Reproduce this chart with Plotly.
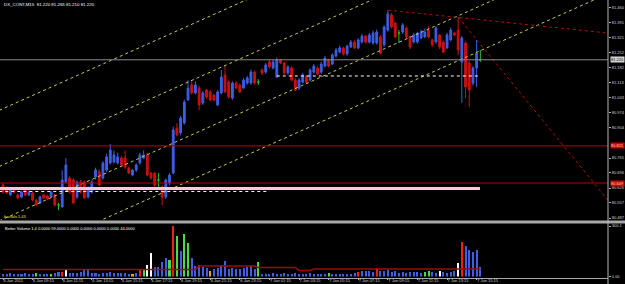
import plotly.graph_objects as go

# ---------------- data ----------------
title_text = "DX_CONT,M15  81.220 81.265 81.210 81.220"
indicator_text = "Better Volume 1.4 0.0000 59.0000 0.0000 0.0000 0.0000 0.0000 44.0000"
fractal_text = "fractals 1.43"

opens = [80.640, 80.626, 80.594, 80.626, 80.594, 80.584, 80.617, 80.594, 80.603, 80.570,
         80.557, 80.594, 80.589, 80.584, 80.594, 80.547, 80.538, 80.654, 80.672, 80.663,
         80.584, 80.654, 80.654, 80.584, 80.607, 80.677, 80.700, 80.672, 80.709, 80.742,
         80.746, 80.742, 80.765, 80.765, 80.719, 80.686, 80.709, 80.742, 80.765, 80.779,
         80.695, 80.695, 80.663, 80.631, 80.584, 80.649, 80.695, 80.904, 80.881, 80.927,
         81.034, 81.103, 81.066, 81.089, 81.020, 81.080, 81.071, 81.057, 81.011, 81.066,
         81.150, 81.117, 81.043, 81.112, 81.103, 81.089, 81.112, 81.112, 81.163, 81.117,
         81.173, 81.163, 81.210, 81.182, 81.140, 81.219, 81.205, 81.159, 81.182, 81.126,
         81.089, 81.117, 81.145, 81.126, 81.163, 81.182, 81.163, 81.191, 81.219, 81.200,
         81.238, 81.256, 81.275, 81.247, 81.279, 81.302, 81.275, 81.302, 81.330, 81.302,
         81.298, 81.298, 81.326, 81.289, 81.358, 81.428, 81.390, 81.344, 81.349, 81.367,
         81.326, 81.302, 81.302, 81.321, 81.326, 81.358, 81.312, 81.302, 81.335, 81.302,
         81.275, 81.312, 81.344, 81.358, 81.210, 81.298, 81.205, 81.112, 81.182, 81.220]
highs = [80.650, 80.635, 80.625, 80.631, 80.600, 80.612, 80.622, 80.615, 80.610, 80.575,
         80.590, 80.598, 80.594, 80.612, 80.600, 80.557, 80.709, 80.765, 80.680, 80.670,
         80.660, 80.663, 80.660, 80.635, 80.665, 80.720, 80.712, 80.750, 80.785, 80.830,
         80.800, 80.790, 80.775, 80.800, 80.725, 80.715, 80.740, 80.790, 80.800, 80.790,
         80.700, 80.700, 80.695, 80.640, 80.670, 80.695, 80.910, 80.927, 80.960, 81.035,
         81.126, 81.126, 81.120, 81.100, 81.075, 81.085, 81.080, 81.062, 81.080, 81.173,
         81.196, 81.125, 81.120, 81.120, 81.110, 81.135, 81.145, 81.175, 81.170, 81.130,
         81.180, 81.205, 81.220, 81.220, 81.230, 81.225, 81.210, 81.195, 81.190, 81.135,
         81.135, 81.160, 81.150, 81.180, 81.200, 81.190, 81.210, 81.238, 81.225, 81.250,
         81.275, 81.285, 81.280, 81.290, 81.312, 81.310, 81.320, 81.340, 81.335, 81.345,
         81.355, 81.360, 81.335, 81.380, 81.450, 81.436, 81.395, 81.358, 81.390, 81.375,
         81.330, 81.345, 81.350, 81.360, 81.365, 81.375, 81.318, 81.375, 81.340, 81.310,
         81.345, 81.370, 81.350, 81.418, 81.330, 81.305, 81.215, 81.190, 81.312, 81.265]
lows = [80.600, 80.598, 80.590, 80.600, 80.575, 80.578, 80.589, 80.589, 80.565, 80.540,
        80.550, 80.575, 80.570, 80.580, 80.540, 80.524, 80.535, 80.650, 80.600, 80.550,
        80.575, 80.600, 80.575, 80.578, 80.600, 80.665, 80.635, 80.665, 80.700, 80.735,
        80.740, 80.735, 80.725, 80.715, 80.690, 80.680, 80.700, 80.735, 80.760, 80.680,
        80.665, 80.630, 80.631, 80.547, 80.575, 80.640, 80.690, 80.865, 80.870, 80.920,
        81.030, 81.060, 81.060, 80.987, 81.011, 81.040, 81.030, 81.028, 81.005, 81.060,
        81.065, 81.040, 81.035, 81.085, 81.065, 81.085, 81.105, 81.105, 81.105, 81.103,
        81.150, 81.155, 81.180, 81.175, 81.135, 81.200, 81.150, 81.150, 81.120, 81.075,
        81.080, 81.110, 81.110, 81.120, 81.155, 81.150, 81.155, 81.185, 81.185, 81.195,
        81.230, 81.250, 81.240, 81.240, 81.275, 81.270, 81.270, 81.295, 81.295, 81.295,
        81.290, 81.290, 81.245, 81.280, 81.350, 81.365, 81.320, 81.298, 81.340, 81.320,
        81.270, 81.295, 81.295, 81.315, 81.320, 81.320, 81.280, 81.295, 81.270, 81.250,
        81.270, 81.305, 81.330, 81.242, 81.020, 81.043, 81.001, 81.100, 81.094, 81.210]
closes = [80.607, 80.603, 80.617, 80.607, 80.580, 80.607, 80.594, 80.607, 80.570, 80.547,
          80.584, 80.580, 80.575, 80.607, 80.547, 80.547, 80.663, 80.733, 80.607, 80.557,
          80.654, 80.607, 80.580, 80.626, 80.654, 80.709, 80.640, 80.742, 80.770, 80.802,
          80.779, 80.770, 80.733, 80.723, 80.695, 80.709, 80.733, 80.779, 80.779, 80.686,
          80.672, 80.640, 80.663, 80.584, 80.663, 80.686, 80.895, 80.872, 80.950, 81.024,
          81.089, 81.066, 81.103, 81.011, 81.066, 81.048, 81.034, 81.034, 81.071, 81.140,
          81.071, 81.048, 81.112, 81.089, 81.071, 81.126, 81.136, 81.163, 81.112, 81.117,
          81.159, 81.196, 81.187, 81.210, 81.219, 81.205, 81.159, 81.187, 81.126, 81.080,
          81.126, 81.150, 81.117, 81.173, 81.191, 81.154, 81.200, 81.228, 81.191, 81.242,
          81.265, 81.275, 81.247, 81.284, 81.302, 81.275, 81.312, 81.330, 81.302, 81.335,
          81.344, 81.349, 81.251, 81.372, 81.432, 81.372, 81.326, 81.344, 81.381, 81.326,
          81.279, 81.335, 81.344, 81.349, 81.349, 81.326, 81.289, 81.367, 81.279, 81.256,
          81.335, 81.358, 81.335, 81.265, 81.321, 81.094, 81.080, 81.182, 81.251, 81.220]

volume = [15, 12, 18, 12, 15, 12, 18, 15, 12, 18,
          15, 12, 15, 15, 18, 24, 24, 42, 18, 21,
          18, 24, 36, 36, 18, 21, 15, 21, 18, 24,
          18, 21, 18, 21, 15, 12, 18, 36, 36, 66,
          138, 54, 54, 84, 108, 96, 300, 240, 150, 250,
          200, 110, 60, 66, 54, 48, 30, 45, 48, 66,
          90, 45, 48, 42, 45, 48, 54, 60, 45, 84,
          15, 12, 15, 18, 12, 15, 18, 12, 15, 18,
          12, 15, 12, 18, 15, 12, 15, 12, 18, 15,
          12, 15, 12, 15, 12, 18, 24, 30, 30, 30,
          24, 48, 30, 30, 36, 24, 30, 18, 24, 18,
          24, 24, 24, 18, 24, 30, 24, 18, 30, 24,
          18, 24, 30, 78, 204, 180, 156, 144, 156, 59]
volume_type = ["n", "n", "n", "n", "n", "n", "n", "n", "n", "churn",
               "n", "n", "n", "churn", "n", "n", "climax_up", "climax_down", "n", "n",
               "n", "n", "n", "n", "n", "n", "n", "n", "n", "n",
               "n", "n", "n", "n", "n", "low", "n", "climax_up", "churn", "climax_down",
               "climax_down", "n", "n", "n", "n", "churn", "climax_up", "churn", "n", "churn",
               "churn", "n", "n", "n", "n", "n", "low", "n", "n", "n",
               "n", "n", "n", "n", "n", "n", "n", "n", "n", "churn",
               "n", "n", "n", "n", "n", "n", "n", "n", "n", "n",
               "n", "n", "n", "n", "n", "n", "n", "n", "churn", "n",
               "n", "n", "n", "n", "n", "n", "climax_up", "n", "n", "n",
               "n", "climax_up", "n", "n", "n", "n", "n", "n", "n", "n",
               "n", "n", "n", "n", "churn", "churn", "n", "n", "climax_down", "n",
               "n", "n", "n", "climax_down", "climax_up", "n", "n", "n", "n", "n"]
volume_avg = [42, 42, 42, 42, 42, 42, 42, 42, 42, 42,
              42, 42, 42, 42, 42, 42, 42, 42, 42, 42,
              42, 42, 42, 42, 42, 42, 42, 42, 42, 42,
              42, 42, 42, 42, 42, 42, 42, 42, 42, 42,
              42, 42, 42, 42, 42, 42, 42, 42, 42, 42,
              42, 42, 42, 62, 62, 62, 62, 62, 62, 62,
              62, 62, 62, 62, 62, 62, 62, 62, 62, 54,
              54, 54, 54, 54, 54, 54, 54, 54, 54, 54,
              36, 36, 36, 36, 44, 44, 44, 44, 44, 44,
              44, 44, 44, 44, 44, 44, 44, 44, 44, 44,
              44, 44, 44, 44, 44, 44, 44, 44, 44, 44,
              44, 44, 44, 44, 44, 44, 44, 44, 44, 44,
              44, 44, 44, 44, 44, 44, 44, 44, 44, 44]

time_tick_bars = [0, 8, 16, 24, 32, 40, 48, 56, 64, 72, 80, 88, 96, 104, 112, 120, 128]
time_labels = ["6 Jan 2011", "6 Jan 09:15", "6 Jan 11:15", "6 Jan 13:15", "6 Jan 15:15",
               "6 Jan 17:15", "6 Jan 19:15", "6 Jan 21:15", "6 Jan 23:15", "7 Jan 01:15",
               "7 Jan 03:15", "7 Jan 05:15", "7 Jan 07:15", "7 Jan 09:15", "7 Jan 11:15",
               "7 Jan 13:15", "7 Jan 15:15"]

price_ticks = [81.460, 81.391, 81.321, 81.252, 81.182, 81.113, 81.043, 80.974,
               80.904, 80.765, 80.696, 80.626, 80.557, 80.487]
volume_ticks = [0, 300.1]
volume_tick_labels = ["0.00", "300.1"]

bid_price = 81.220
red_levels = [80.821, 80.649]
pink_level = [80.624, -1, 128.9]              # price, from bar, to bar
white_dotted = [[80.610, -1, 72], [81.145, 74, 128.5]]
# channel lines: (bar0, price0, bar1, price1)
channel_lines = [[-1, 80.986, 164, 82.250], [-1, 80.726, 164, 81.990],
                 [-1, 80.474, 164, 81.738], [-1, 80.266, 164, 81.530]]
red_dotted_lines = [[104, 81.450, 164, 81.343], [123, 81.418, 164, 80.559]]

# ---------------- styling ----------------
W, H = 625, 284
XD = 608 / W
BLUE = "#3c5fe6"
RED = "#cc1010"
GREEN = "#22c022"
vol_colors = {"n": "#3c5fe6", "climax_up": "#ff1a1a", "climax_down": "#ffffff",
              "churn": "#40e040", "low": "#f0a020"}
FONT = "Liberation Sans"
FS = 4

def py(px):
    return 1 - px / H

bars = list(range(len(opens)))
nd = [i for i in bars if opens[i] != closes[i]]
dj = [i for i in bars if opens[i] == closes[i]]

fig = go.Figure()
fig.add_trace(go.Candlestick(
    x=nd, open=[opens[i] for i in nd], high=[highs[i] for i in nd],
    low=[lows[i] for i in nd], close=[closes[i] for i in nd],
    increasing=dict(line=dict(color=BLUE, width=1), fillcolor=BLUE),
    decreasing=dict(line=dict(color=RED, width=1), fillcolor=RED),
    whiskerwidth=0, showlegend=False, hoverinfo="skip", xaxis="x", yaxis="y"))
fig.add_trace(go.Candlestick(
    x=dj, open=[opens[i] for i in dj], high=[highs[i] for i in dj],
    low=[lows[i] for i in dj], close=[closes[i] for i in dj],
    increasing=dict(line=dict(color=GREEN, width=1), fillcolor=GREEN),
    decreasing=dict(line=dict(color=GREEN, width=1), fillcolor=GREEN),
    whiskerwidth=0, showlegend=False, hoverinfo="skip", xaxis="x", yaxis="y"))
fig.add_trace(go.Bar(
    x=bars, y=volume, marker=dict(color=[vol_colors[t] for t in volume_type], line=dict(width=0)),
    width=0.55, showlegend=False, hoverinfo="skip", xaxis="x", yaxis="y2"))
fig.add_trace(go.Scatter(
    x=bars, y=volume_avg, mode="lines", line=dict(color="#9a0c0c", width=1.5),
    showlegend=False, hoverinfo="skip", xaxis="x", yaxis="y2"))

shapes = []
for b0, p0, b1, p1 in channel_lines:
    shapes.append(dict(type="line", xref="x", yref="y", x0=b0, y0=p0, x1=b1, y1=p1,
                       line=dict(color="#c8c858", width=1, dash="dot")))
for b0, p0, b1, p1 in red_dotted_lines:
    shapes.append(dict(type="line", xref="x", yref="y", x0=b0, y0=p0, x1=b1, y1=p1,
                       line=dict(color="#b01010", width=1, dash="dot")))
for lv in red_levels:
    shapes.append(dict(type="line", xref="x", yref="y", x0=-1, x1=170, y0=lv, y1=lv,
                       line=dict(color="#b80000", width=1)))
shapes.append(dict(type="line", xref="x", yref="y", x0=pink_level[1], x1=pink_level[2],
                   y0=pink_level[0], y1=pink_level[0], line=dict(color="#f6c8dc", width=3)))
for lv, b0, b1 in white_dotted:
    shapes.append(dict(type="line", xref="x", yref="y", x0=b0, x1=b1, y0=lv, y1=lv,
                       line=dict(color="#ffffff", width=1, dash="dot")))
shapes.append(dict(type="line", xref="x", yref="y", x0=-1, x1=170, y0=bid_price, y1=bid_price,
                   line=dict(color="#8c8c8c", width=1)))
# window frame
shapes.append(dict(type="rect", xref="paper", yref="paper", x0=0, x1=1, y0=py(223.5), y1=py(220.5),
                   fillcolor="#a8a8a8", line=dict(width=0), layer="above"))
shapes.append(dict(type="line", xref="paper", yref="paper", x0=0, x1=XD, y0=py(278.5), y1=py(278.5),
                   line=dict(color="#a8a8a8", width=1)))
shapes.append(dict(type="line", xref="paper", yref="paper", x0=XD, x1=XD, y0=0, y1=1,
                   line=dict(color="#b4b4b4", width=1)))

ann = [
    dict(text=title_text, x=2 / W, y=py(5), xanchor="left", yanchor="middle",
         font=dict(size=4.4, color="#ffffff", family=FONT)),
    dict(text=fractal_text, x=2 / W, y=py(216), xanchor="left", yanchor="middle",
         font=dict(size=FS, color="#e8e830", family=FONT)),
    dict(text=indicator_text, x=3 / W, y=py(228), xanchor="left", yanchor="middle",
         font=dict(size=FS, color="#ffffff", family=FONT)),
    dict(text=f"{bid_price:.3f}", x=XD + 2 / W, xref="paper", y=bid_price, yref="y",
         xanchor="left", yanchor="middle", bgcolor="#d4d4d4", borderpad=0,
         font=dict(size=FS, color="#000000", family=FONT)),
]
for lv in red_levels:
    ann.append(dict(text=f"{lv:.3f}", x=XD + 2 / W, xref="paper", y=lv, yref="y",
                    xanchor="left", yanchor="middle", bgcolor="#d00000", borderpad=0,
                    font=dict(size=FS, color="#ffd0d0", family=FONT)))
for a in ann:
    a.setdefault("xref", "paper")
    a.setdefault("yref", "paper")
    a["showarrow"] = False

axis_common = dict(showgrid=False, zeroline=False, showline=False, automargin=False,
                   fixedrange=True, ticks="outside", ticklen=2, tickcolor="#b0b0b0",
                   tickfont=dict(size=FS, color="#d0d0d0", family=FONT), tickmode="array")

fig.update_layout(
    width=W, height=H, autosize=False,
    margin=dict(l=0, r=0, t=0, b=0, pad=0, autoexpand=False),
    paper_bgcolor="#000000", plot_bgcolor="#000000",
    font=dict(family=FONT, size=FS, color="#d0d0d0"),
    showlegend=False, bargap=0,
    xaxis=dict(domain=[0, XD], range=[-0.81, 163.5], anchor="y2",
               tickvals=time_tick_bars, ticktext=time_labels, tickangle=0,
               ticklabelposition="outside right", rangeslider=dict(visible=False),
               **axis_common),
    yaxis=dict(domain=[py(220), 1], range=[81.497 - 220 * 0.004633, 81.497], anchor="x",
               side="right", tickvals=price_ticks,
               ticktext=[f"{v:.3f}" for v in price_ticks], **axis_common),
    yaxis2=dict(domain=[py(276.5), py(226)], range=[0, 300.1], anchor="x", side="right",
                tickvals=volume_ticks, ticktext=volume_tick_labels, **axis_common),
    shapes=shapes, annotations=ann,
)

fig.write_html("out.html", config={"displayModeBar": False})
